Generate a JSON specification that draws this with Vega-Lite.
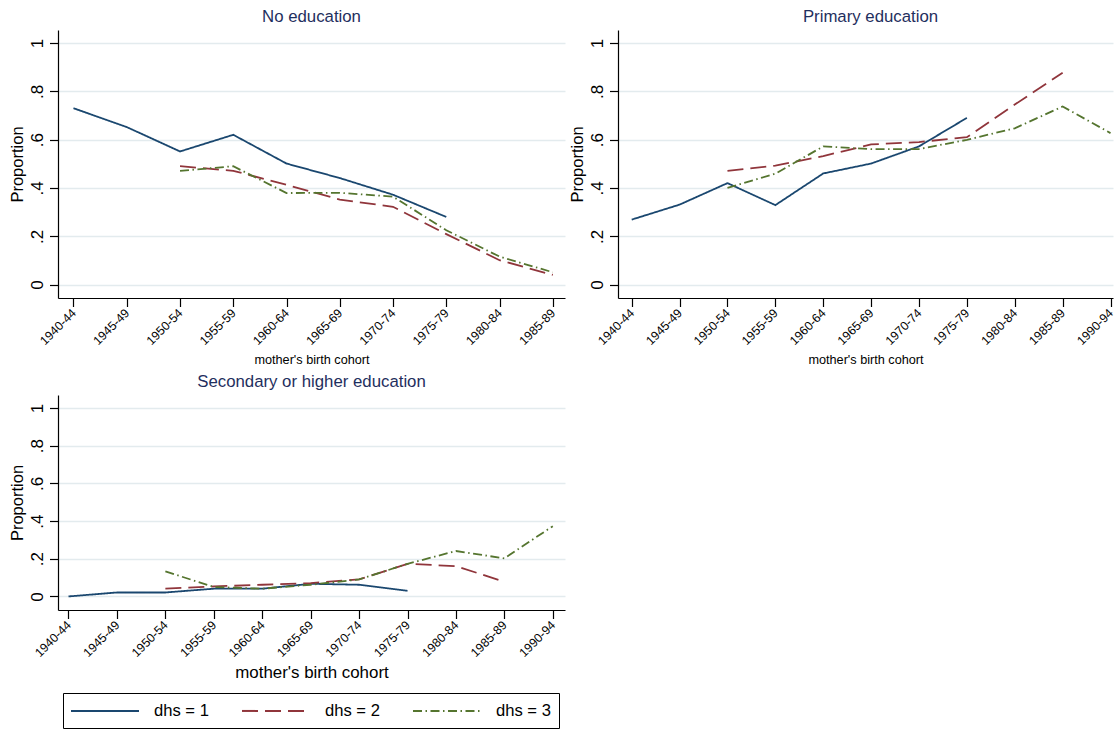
{
  "$schema": "https://vega.github.io/schema/vega-lite/v6.json",
  "background": "white",
  "padding": {"left": 9, "top": 9, "right": 0, "bottom": 0},
  "autosize": {"type": "pad"},
  "config": {
    "font": "Liberation Sans",
    "view": {"stroke": null},
    "title": {"fontSize": 16.8, "fontWeight": "normal", "color": "#1f2f5e", "font": "Liberation Sans", "anchor": "middle", "frame": "group", "offset": 4},
    "axis": {"domainColor": "#000000", "domainWidth": 1.2, "tickColor": "#000000", "tickWidth": 1.2, "labelColor": "#000000", "titleColor": "#000000", "titleFontWeight": "normal", "labelFont": "Liberation Sans", "titleFont": "Liberation Sans"},
    "axisX": {"grid": false, "labelAngle": -45, "labelAlign": "right", "labelBaseline": "middle", "labelFontSize": 12.3, "tickSize": 8.5, "labelPadding": 4, "labelFlush": false, "labelOverlap": false, "labelBound": false, "minExtent": 50, "maxExtent": 50},
    "axisY": {"grid": true, "gridColor": "#e3ebee", "gridWidth": 1.5, "labelAngle": -90, "labelAlign": "center", "labelBaseline": "alphabetic", "labelFontSize": 17, "tickSize": 8.5, "labelPadding": 7, "titleFontSize": 16.5, "titlePadding": 2, "minExtent": 31, "maxExtent": 31, "labelFlush": false, "labelOverlap": false}
  },
  "datasets": {
    "noedu": [
      {"dhs": 1, "cohort": "1940-44", "year": 1940, "proportion": 0.730},
      {"dhs": 1, "cohort": "1945-49", "year": 1945, "proportion": 0.652},
      {"dhs": 1, "cohort": "1950-54", "year": 1950, "proportion": 0.551},
      {"dhs": 1, "cohort": "1955-59", "year": 1955, "proportion": 0.620},
      {"dhs": 1, "cohort": "1960-64", "year": 1960, "proportion": 0.501},
      {"dhs": 1, "cohort": "1965-69", "year": 1965, "proportion": 0.441},
      {"dhs": 1, "cohort": "1970-74", "year": 1970, "proportion": 0.372},
      {"dhs": 1, "cohort": "1975-79", "year": 1975, "proportion": 0.280},
      {"dhs": 2, "cohort": "1950-54", "year": 1950, "proportion": 0.490},
      {"dhs": 2, "cohort": "1955-59", "year": 1955, "proportion": 0.471},
      {"dhs": 2, "cohort": "1960-64", "year": 1960, "proportion": 0.413},
      {"dhs": 2, "cohort": "1965-69", "year": 1965, "proportion": 0.352},
      {"dhs": 2, "cohort": "1970-74", "year": 1970, "proportion": 0.322},
      {"dhs": 2, "cohort": "1975-79", "year": 1975, "proportion": 0.209},
      {"dhs": 2, "cohort": "1980-84", "year": 1980, "proportion": 0.101},
      {"dhs": 2, "cohort": "1985-89", "year": 1985, "proportion": 0.040},
      {"dhs": 3, "cohort": "1950-54", "year": 1950, "proportion": 0.471},
      {"dhs": 3, "cohort": "1955-59", "year": 1955, "proportion": 0.490},
      {"dhs": 3, "cohort": "1960-64", "year": 1960, "proportion": 0.379},
      {"dhs": 3, "cohort": "1965-69", "year": 1965, "proportion": 0.380},
      {"dhs": 3, "cohort": "1970-74", "year": 1970, "proportion": 0.364},
      {"dhs": 3, "cohort": "1975-79", "year": 1975, "proportion": 0.225},
      {"dhs": 3, "cohort": "1980-84", "year": 1980, "proportion": 0.116},
      {"dhs": 3, "cohort": "1985-89", "year": 1985, "proportion": 0.051}
    ],
    "primary": [
      {"dhs": 1, "cohort": "1940-44", "year": 1940, "proportion": 0.269},
      {"dhs": 1, "cohort": "1945-49", "year": 1945, "proportion": 0.331},
      {"dhs": 1, "cohort": "1950-54", "year": 1950, "proportion": 0.420},
      {"dhs": 1, "cohort": "1955-59", "year": 1955, "proportion": 0.329},
      {"dhs": 1, "cohort": "1960-64", "year": 1960, "proportion": 0.460},
      {"dhs": 1, "cohort": "1965-69", "year": 1965, "proportion": 0.501},
      {"dhs": 1, "cohort": "1970-74", "year": 1970, "proportion": 0.572},
      {"dhs": 1, "cohort": "1975-79", "year": 1975, "proportion": 0.690},
      {"dhs": 2, "cohort": "1950-54", "year": 1950, "proportion": 0.471},
      {"dhs": 2, "cohort": "1955-59", "year": 1955, "proportion": 0.492},
      {"dhs": 2, "cohort": "1960-64", "year": 1960, "proportion": 0.532},
      {"dhs": 2, "cohort": "1965-69", "year": 1965, "proportion": 0.580},
      {"dhs": 2, "cohort": "1970-74", "year": 1970, "proportion": 0.590},
      {"dhs": 2, "cohort": "1975-79", "year": 1975, "proportion": 0.610},
      {"dhs": 2, "cohort": "1980-84", "year": 1980, "proportion": 0.745},
      {"dhs": 2, "cohort": "1985-89", "year": 1985, "proportion": 0.877},
      {"dhs": 3, "cohort": "1950-54", "year": 1950, "proportion": 0.400},
      {"dhs": 3, "cohort": "1955-59", "year": 1955, "proportion": 0.459},
      {"dhs": 3, "cohort": "1960-64", "year": 1960, "proportion": 0.572},
      {"dhs": 3, "cohort": "1965-69", "year": 1965, "proportion": 0.561},
      {"dhs": 3, "cohort": "1970-74", "year": 1970, "proportion": 0.561},
      {"dhs": 3, "cohort": "1975-79", "year": 1975, "proportion": 0.599},
      {"dhs": 3, "cohort": "1980-84", "year": 1980, "proportion": 0.647},
      {"dhs": 3, "cohort": "1985-89", "year": 1985, "proportion": 0.737},
      {"dhs": 3, "cohort": "1990-94", "year": 1990, "proportion": 0.627}
    ],
    "secondary": [
      {"dhs": 1, "cohort": "1940-44", "year": 1940, "proportion": 0.000},
      {"dhs": 1, "cohort": "1945-49", "year": 1945, "proportion": 0.021},
      {"dhs": 1, "cohort": "1950-54", "year": 1950, "proportion": 0.021},
      {"dhs": 1, "cohort": "1955-59", "year": 1955, "proportion": 0.041},
      {"dhs": 1, "cohort": "1960-64", "year": 1960, "proportion": 0.041},
      {"dhs": 1, "cohort": "1965-69", "year": 1965, "proportion": 0.067},
      {"dhs": 1, "cohort": "1970-74", "year": 1970, "proportion": 0.062},
      {"dhs": 1, "cohort": "1975-79", "year": 1975, "proportion": 0.030},
      {"dhs": 2, "cohort": "1950-54", "year": 1950, "proportion": 0.041},
      {"dhs": 2, "cohort": "1955-59", "year": 1955, "proportion": 0.053},
      {"dhs": 2, "cohort": "1960-64", "year": 1960, "proportion": 0.062},
      {"dhs": 2, "cohort": "1965-69", "year": 1965, "proportion": 0.071},
      {"dhs": 2, "cohort": "1970-74", "year": 1970, "proportion": 0.090},
      {"dhs": 2, "cohort": "1975-79", "year": 1975, "proportion": 0.173},
      {"dhs": 2, "cohort": "1980-84", "year": 1980, "proportion": 0.161},
      {"dhs": 2, "cohort": "1985-89", "year": 1985, "proportion": 0.078},
      {"dhs": 3, "cohort": "1950-54", "year": 1950, "proportion": 0.133},
      {"dhs": 3, "cohort": "1955-59", "year": 1955, "proportion": 0.050},
      {"dhs": 3, "cohort": "1960-64", "year": 1960, "proportion": 0.041},
      {"dhs": 3, "cohort": "1965-69", "year": 1965, "proportion": 0.062},
      {"dhs": 3, "cohort": "1970-74", "year": 1970, "proportion": 0.090},
      {"dhs": 3, "cohort": "1975-79", "year": 1975, "proportion": 0.173},
      {"dhs": 3, "cohort": "1980-84", "year": 1980, "proportion": 0.241},
      {"dhs": 3, "cohort": "1985-89", "year": 1985, "proportion": 0.202},
      {"dhs": 3, "cohort": "1990-94", "year": 1990, "proportion": 0.373}
    ]
  },
  "columns": 2,
  "bounds": "flush",
  "spacing": {"row": 97, "column": 53},
  "resolve": {"scale": {"x": "independent", "y": "independent", "color": "independent", "strokeDash": "independent"}},
  "concat": [
    {
      "width": 507,
      "height": 268,
      "title": {"text": "No education"},
      "data": {"name": "noedu"},
      "mark": {"type": "line", "strokeWidth": 1.8},
      "encoding": {
        "x": {"field": "year", "type": "quantitative",
              "scale": {"domain": [1938.545, 1986.145], "nice": false, "zero": false},
              "axis": {"values": [1940, 1945, 1950, 1955, 1960, 1965, 1970, 1975, 1980, 1985],
                       "labelExpr": "datum.value + '-' + slice(toString(datum.value + 4), 2)",
                       "title": "mother's birth cohort", "titleFontSize": 12.7, "titlePadding": 5}},
        "y": {"field": "proportion", "type": "quantitative",
              "scale": {"domain": [-0.0554, 1.0537], "nice": false, "zero": false},
              "axis": {"values": [0, 0.2, 0.4, 0.6, 0.8, 1],
                       "labelExpr": "datum.value == 0 ? '0' : datum.value == 1 ? '1' : '.' + format(datum.value * 10, 'd')",
                       "title": "Proportion"}},
        "color": {"field": "dhs", "type": "nominal", "legend": null,
                  "scale": {"domain": [1, 2, 3], "range": ["#1a476f", "#90353b", "#55752f"]}},
        "strokeDash": {"field": "dhs", "type": "nominal", "legend": null,
                       "scale": {"domain": [1, 2, 3], "range": [[1, 0], [16, 7], [9, 3.5, 1.5, 3.5]]}}
      }
    },
    {
      "width": 495,
      "height": 268,
      "title": {"text": "Primary education", "dx": 5},
      "data": {"name": "primary"},
      "mark": {"type": "line", "strokeWidth": 1.8},
      "encoding": {
        "x": {"field": "year", "type": "quantitative",
              "scale": {"domain": [1938.569, 1990.26], "nice": false, "zero": false},
              "axis": {"values": [1940, 1945, 1950, 1955, 1960, 1965, 1970, 1975, 1980, 1985, 1990],
                       "labelExpr": "datum.value + '-' + slice(toString(datum.value + 4), 2)",
                       "title": "mother's birth cohort", "titleFontSize": 12.7, "titlePadding": 5}},
        "y": {"field": "proportion", "type": "quantitative",
              "scale": {"domain": [-0.0554, 1.0537], "nice": false, "zero": false},
              "axis": {"values": [0, 0.2, 0.4, 0.6, 0.8, 1],
                       "labelExpr": "datum.value == 0 ? '0' : datum.value == 1 ? '1' : '.' + format(datum.value * 10, 'd')",
                       "title": "Proportion"}},
        "color": {"field": "dhs", "type": "nominal", "legend": null,
                  "scale": {"domain": [1, 2, 3], "range": ["#1a476f", "#90353b", "#55752f"]}},
        "strokeDash": {"field": "dhs", "type": "nominal", "legend": null,
                       "scale": {"domain": [1, 2, 3], "range": [[1, 0], [16, 7], [9, 3.5, 1.5, 3.5]]}}
      }
    },
    {
      "width": 507,
      "height": 215,
      "title": {"text": "Secondary or higher education"},
      "data": {"name": "secondary"},
      "mark": {"type": "line", "strokeWidth": 1.8},
      "encoding": {
        "x": {"field": "year", "type": "quantitative",
              "scale": {"domain": [1938.916, 1991.26], "nice": false, "zero": false},
              "axis": {"values": [1940, 1945, 1950, 1955, 1960, 1965, 1970, 1975, 1980, 1985, 1990],
                       "labelExpr": "datum.value + '-' + slice(toString(datum.value + 4), 2)",
                       "title": "mother's birth cohort", "titleFontSize": 16.9, "titlePadding": 4}},
        "y": {"field": "proportion", "type": "quantitative",
              "scale": {"domain": [-0.072, 1.069], "nice": false, "zero": false},
              "axis": {"values": [0, 0.2, 0.4, 0.6, 0.8, 1],
                       "labelExpr": "datum.value == 0 ? '0' : datum.value == 1 ? '1' : '.' + format(datum.value * 10, 'd')",
                       "title": "Proportion"}},
        "color": {"field": "dhs", "type": "nominal",
                  "scale": {"domain": [1, 2, 3], "range": ["#1a476f", "#90353b", "#55752f"]},
                  "legend": {"orient": "none", "legendX": 5, "legendY": 298, "direction": "horizontal", "columns": 3,
                             "title": null, "labelExpr": "'dhs = ' + datum.label",
                             "symbolType": "M-1.118,0H6.88", "symbolSize": 289, "symbolStrokeWidth": 2,
                             "labelFontSize": 16.6, "labelFont": "Liberation Sans", "labelColor": "#000000",
                             "labelOffset": 64, "columnPadding": 28, "padding": 8,
                             "strokeColor": "#000000", "fillColor": "#ffffff"}},
        "strokeDash": {"field": "dhs", "type": "nominal",
                       "scale": {"domain": [1, 2, 3], "range": [[1, 0], [16, 7], [9, 3.5, 1.5, 3.5]]},
                       "legend": {"orient": "none", "legendX": 5, "legendY": 298, "direction": "horizontal", "columns": 3,
                             "title": null, "labelExpr": "'dhs = ' + datum.label",
                             "symbolType": "M-1.118,0H6.88", "symbolSize": 289, "symbolStrokeWidth": 2,
                             "labelFontSize": 16.6, "labelFont": "Liberation Sans", "labelColor": "#000000",
                             "labelOffset": 64, "columnPadding": 28, "padding": 8,
                             "strokeColor": "#000000", "fillColor": "#ffffff"}}
      }
    }
  ]
}
